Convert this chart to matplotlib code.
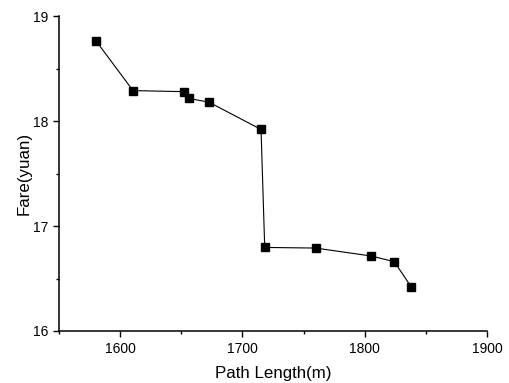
import numpy as np
import matplotlib
matplotlib.use('Agg')
import matplotlib.pyplot as plt
from matplotlib.ticker import MultipleLocator

plt.rcParams['font.family'] = ['Liberation Sans', 'DejaVu Sans']

# path length (m) vs fare (yuan)
path_length = [1580.5, 1610.5, 1652.5, 1656.3, 1672.6, 1715.2, 1718.2, 1759.9, 1805.4, 1824.2, 1838.0]
fare = [18.76, 18.29, 18.28, 18.215, 18.18, 17.92, 16.796, 16.79, 16.714, 16.66, 16.42]

fig = plt.figure(figsize=(5.1, 3.83), dpi=100)
ax = fig.add_axes([0.1157, 0.1358, 0.8393, 0.8222])

ax.plot(path_length, fare, color='black', linewidth=0.8,
        marker='s', markersize=5.5, markerfacecolor='black', markeredgecolor='black')

ax.set_xlim(1550, 1900)
ax.set_ylim(16, 19)
ax.xaxis.set_major_locator(MultipleLocator(100))
ax.xaxis.set_minor_locator(MultipleLocator(50))
ax.yaxis.set_major_locator(MultipleLocator(1))
ax.yaxis.set_minor_locator(MultipleLocator(0.5))

for side in ['top', 'right']:
    ax.spines[side].set_visible(False)
for side in ['left', 'bottom']:
    ax.spines[side].set_linewidth(1.1)

ax.tick_params(which='major', direction='out', length=4, width=1.0, labelsize=10, pad=4)
ax.tick_params(which='minor', direction='out', length=2.5, width=1.0)

ax.set_xlabel('Path Length(m)', fontsize=12.2, labelpad=7)
ax.set_ylabel('Fare(yuan)', fontsize=12.2, labelpad=1)

fig.savefig('out.png', dpi=100)
